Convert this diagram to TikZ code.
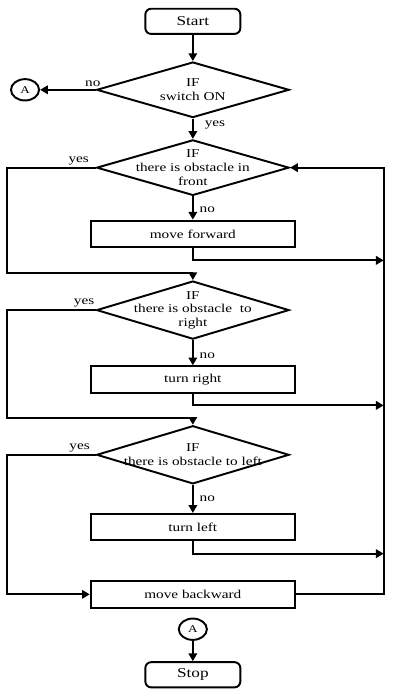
\documentclass[tikz,border=0pt]{standalone}
\usepackage{fontspec}
\setmainfont{Liberation Serif}[FakeStretch=1.27]
\usetikzlibrary{arrows.meta,positioning,shapes.geometric}

\begin{document}
\begin{tikzpicture}[
    node distance=18pt,
    every node/.style={font=\fontsize{9.3}{10.5}\selectfont},
    terminal/.style={draw, line width=1.5pt, rounded corners=4.5pt, minimum width=73.5pt, minimum height=19.5pt, font=\fontsize{10.5}{12}\selectfont},
    decision/.style={draw, diamond, line width=1.5pt, align=center, inner sep=-20pt, minimum width=149pt, minimum height=43pt},
    process/.style={draw, line width=1.5pt, minimum width=158pt, minimum height=20.5pt},
    connector/.style={draw, ellipse, line width=1.5pt, inner sep=0pt, minimum width=21.75pt, minimum height=16.5pt, font=\fontsize{8}{9}\selectfont},
    flow/.style={-{Triangle[length=6pt, width=6.5pt]}, line width=1.5pt},
    lbl/.style={inner sep=1.5pt}
]
\node[terminal] (start) {Start};
\node[decision, below=20.25pt of start] (swon) {IF\\switch ON};
\node[connector, left=43pt of swon] (conA) {A};
\node[decision, below=15.75pt of swon] (obsfront) {IF\\there is obstacle in\\front};
\node[process, below=18pt of obsfront] (fwd) {move forward};
\node[decision, minimum height=45pt, below=24.75pt of fwd] (obsright) {IF\\there is obstacle~ to\\right};
\node[process, below=19.5pt of obsright] (turnr) {turn right};
\node[decision, minimum height=45pt, below=24pt of turnr] (obsleft) {IF\\there is obstacle to left};
\node[process, below=21.75pt of obsleft] (turnl) {turn left};
\node[process, below=30pt of turnl] (back) {move backward};
\node[connector, below=7pt of back] (conB) {A};
\node[terminal, below=15.75pt of conB] (stop) {Stop};

% rails and junctions
\coordinate (lft) at ([xshift=-144pt]start.center);
\coordinate (rgt) at ([xshift=147.75pt]start.center);
\coordinate[above=5.5pt of obsright] (jr);
\coordinate[above=5.5pt of obsleft] (jl);
\coordinate[below=9.5pt of fwd] (fwdout);
\coordinate[below=9pt of turnr] (turnrout);
\coordinate[below=9.5pt of turnl] (turnlout);

\useasboundingbox ([xshift=-149.25pt, yshift=6pt]start.north) rectangle ([xshift=155.25pt, yshift=-8.25pt]stop.south);

\draw[flow] (start) -- (swon);
\draw[flow] (swon.west) -- node[lbl, above, pos=0.05] (no0) {no} (conA);
\draw[flow] (swon) -- node[lbl, right=7pt, pos=0.3] (yes0) {yes} (obsfront);
\draw[flow] (obsfront) -- node[lbl, right=3pt, pos=0.58] (no1) {no} (fwd);
\draw[flow] (obsfront.west) -- node[lbl, above, pos=0.19] (yes1) {yes} (obsfront.west -| lft) |- (jr) -- (obsright);
\draw[flow] (fwd.south) -- (fwdout) -- (fwdout -| rgt);
\draw[flow] (obsright) -- node[lbl, right=3pt, pos=0.62] (no2) {no} (turnr);
\draw[flow] (obsright.west) -- node[lbl, above, pos=0.13] (yes2) {yes} (obsright.west -| lft) |- (jl) -- (obsleft);
\draw[flow] (turnr.south) -- (turnrout) -- (turnrout -| rgt);
\draw[flow] (obsleft) -- node[lbl, right=3pt, pos=0.48] (no3) {no} (turnl);
\draw[flow] (obsleft.west) -- node[lbl, above, pos=0.18] (yes3) {yes} (obsleft.west -| lft) |- (back.west);
\draw[flow] (turnl.south) -- (turnlout) -- (turnlout -| rgt);
\draw[flow] (back.east) -| (rgt |- obsfront.east) -- (obsfront.east);
\draw[flow] (conB) -- (stop);
\end{tikzpicture}
\end{document}
